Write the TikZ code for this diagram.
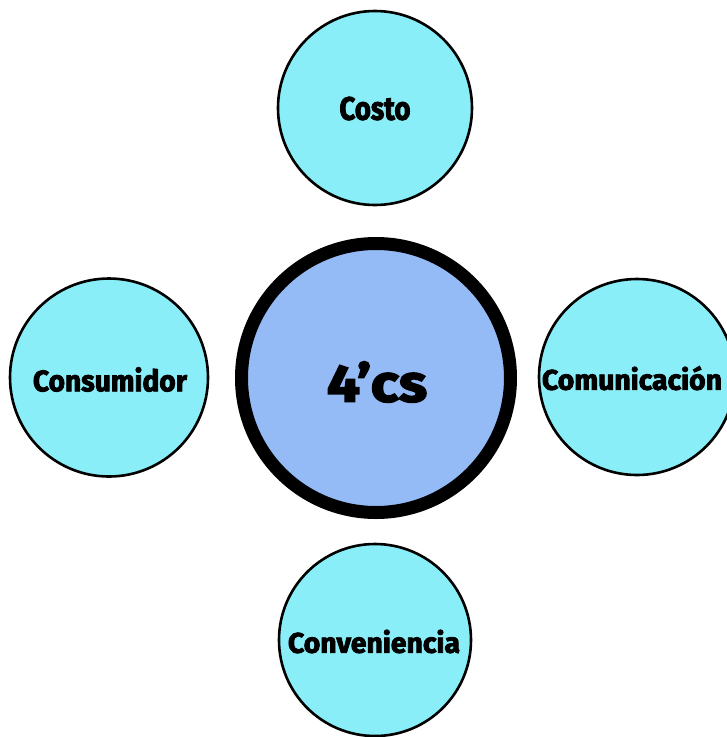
\documentclass[tikz,border=0pt]{standalone}
\usepackage{fontspec}
\newfontfamily\heavyfam[BoldFeatures={FakeBold=3}]{Fira Sans}
\newcommand{\heavy}{\heavyfam\bfseries}
\definecolor{petal}{RGB}{138,238,248}
\definecolor{hub}{RGB}{148,187,245}
% text boxed to a given width and cap height
\newcommand{\word}[3]{\resizebox{#1pt}{#2pt}{\heavy #3}}
\tikzset{
  petalnode/.style={circle, draw=black, line width=2.6pt, fill=petal,
    inner sep=0pt, outer sep=0pt, minimum size=#1pt},
  hubnode/.style={circle, draw=black, line width=13pt, fill=hub,
    inner sep=0pt, outer sep=0pt, minimum size=#1pt},
  wordnode/.style={inner sep=0pt, outer sep=0pt}
}
\begin{document}
\begin{tikzpicture}[x=1pt,y=-1pt]
  \useasboundingbox (0,0) rectangle (727,737);
  \fill[white] (0,0) rectangle (727,737);
  % central hub
  \node[hubnode=269] (hub) at (376,378) {};
  \node[wordnode] (hubtext) at (377,382) {\word{100}{40}{4’cs}};
  % four surrounding circles
  \node[petalnode=194] (costo) at (375,108) {};
  \node[petalnode=198] (consumidor) at (109,377.5) {};
  \node[petalnode=196] (comunicacion) at (637,377) {};
  \node[petalnode=192] (conveniencia) at (375,640) {};
  % their labels
  \node[wordnode] (costotext) at (375,108.5) {\word{71}{23}{Costo}};
  \node[wordnode] (consumidortext) at (110,379.5) {\word{154}{24}{Consumidor}};
  \node[wordnode] (comunicaciontext) at (632,378.5) {\word{180}{23}{Comunicaci\smash{ó}n}};
  \node[wordnode] (convenienciatext) at (374,641.5) {\word{172}{23}{Conveniencia}};
\end{tikzpicture}
\end{document}
